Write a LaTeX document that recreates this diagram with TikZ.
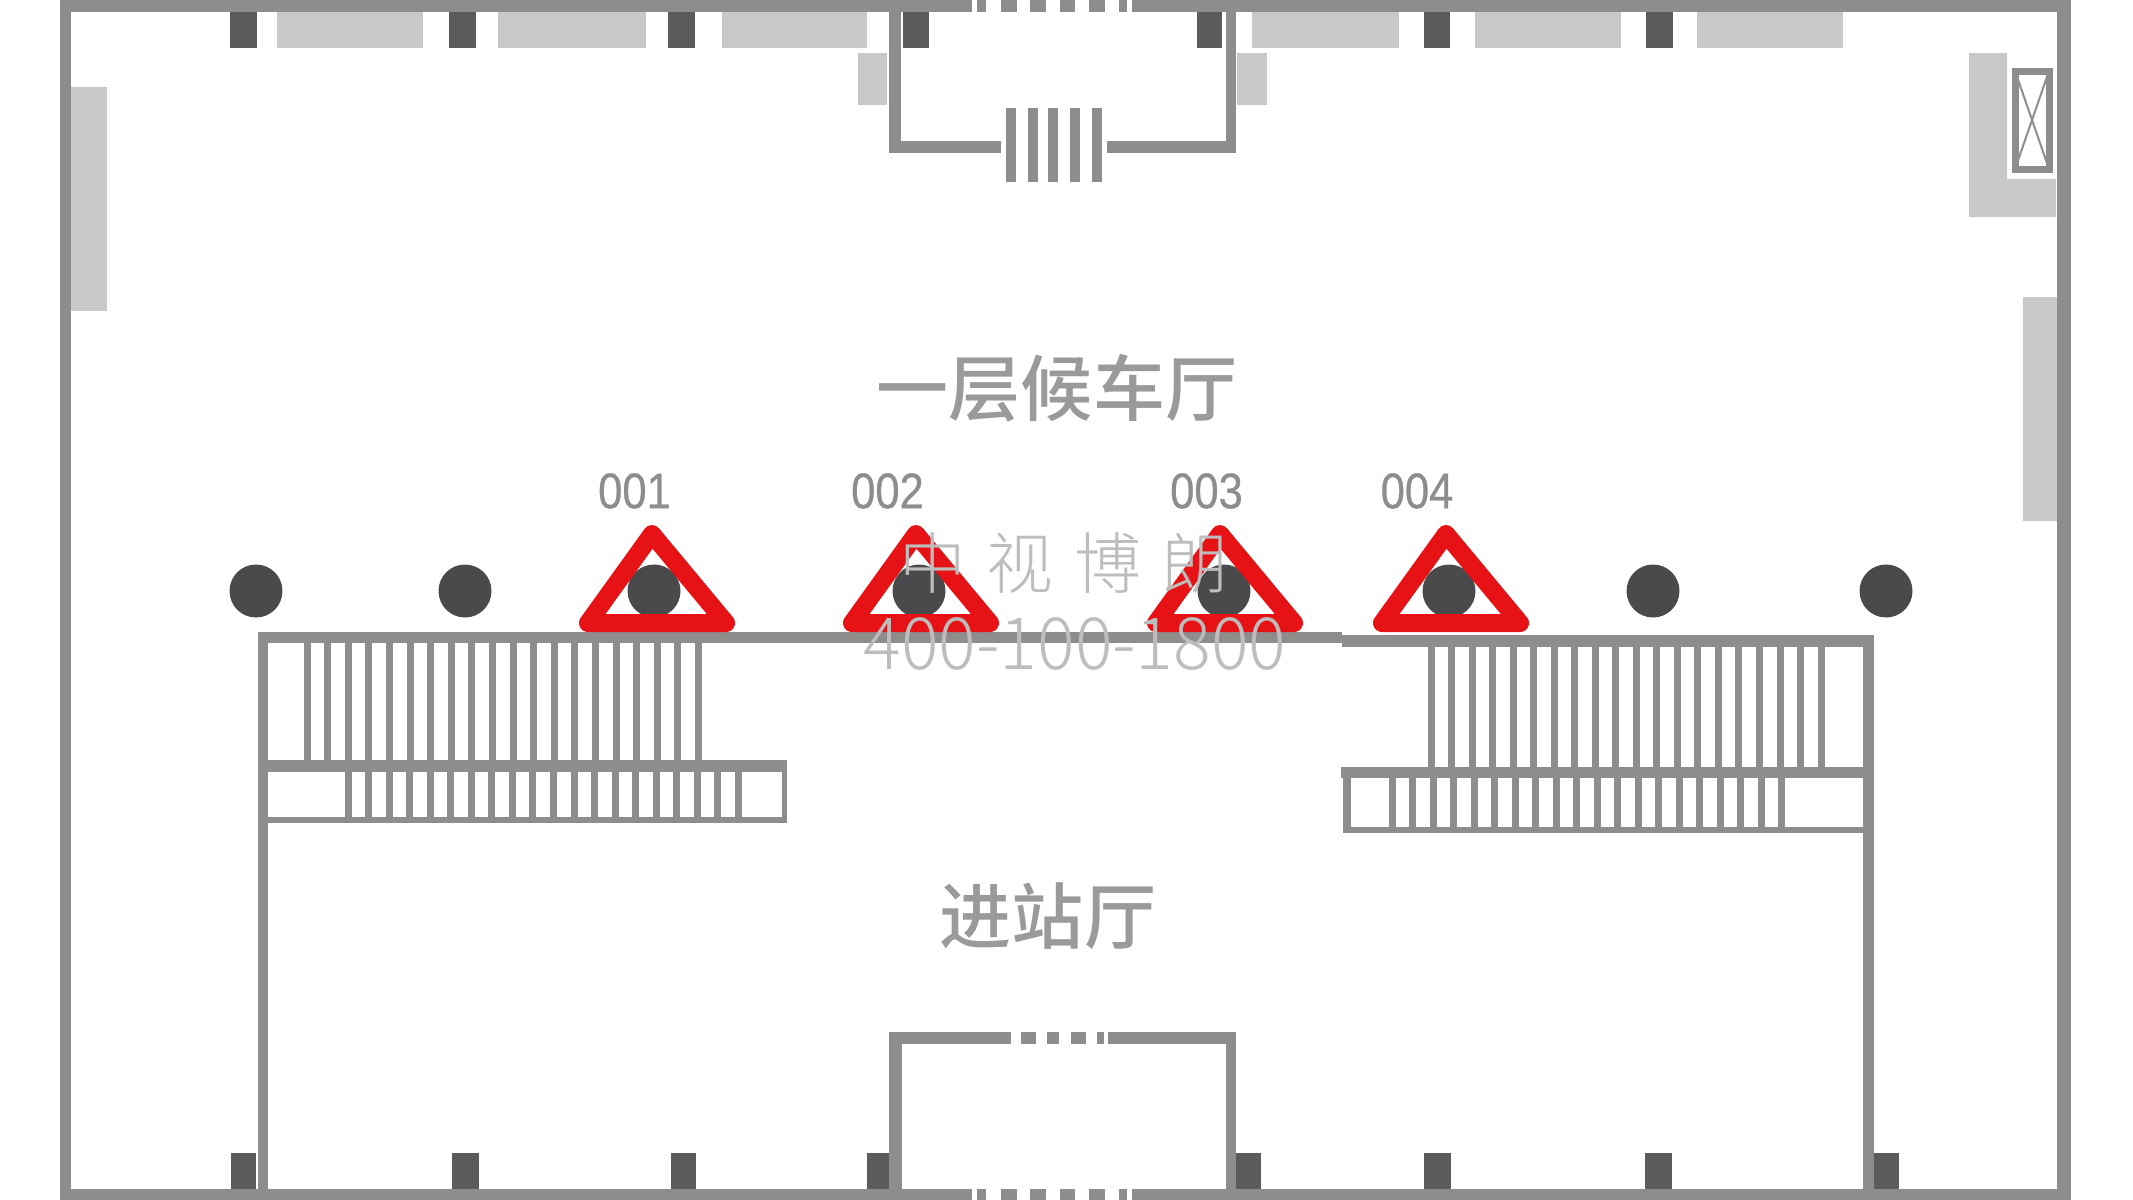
\documentclass[tikz,border=0pt]{standalone}
\usepackage{fontspec}
\newfontfamily\hallfont{Noto Sans CJK SC Medium}
\newfontfamily\numfont[FakeStretch=0.87,FakeBold=0.6]{Liberation Sans}
\newfontfamily\markfont[LetterSpace=31]{Noto Sans CJK SC Light}
\newfontfamily\telfont[FakeStretch=0.975]{Noto Sans CJK SC Light}
\definecolor{wallgrey}{HTML}{8E8D8C}
\definecolor{benchgrey}{HTML}{C8C8CA}
\definecolor{pillargrey}{HTML}{5C5A5B}
\definecolor{columngrey}{HTML}{4A494B}
\definecolor{signred}{HTML}{E61216}
\definecolor{hallgrey}{HTML}{9A9A9A}
\definecolor{markgrey}{HTML}{BDBDBD}
\tikzset{
  wall/.style={fill=wallgrey},
  bench/.style={fill=benchgrey},
  pillar/.style={fill=pillargrey},
  signtri/.style={draw=signred,line width=0.36cm,line join=round},
  halllabel/.style={text=hallgrey,inner sep=0pt,font=\hallfont\fontsize{41}{41}\selectfont},
  numlabel/.style={text=wallgrey,inner sep=0pt,font=\numfont\fontsize{28.5}{28.5}\selectfont},
  marklabel/.style={text=markgrey,inner sep=0pt}
}
\begin{document}
\begin{tikzpicture}[x=0.02cm,y=-0.02cm]
  \useasboundingbox (0,0) rectangle (2133,1200);
  \fill[wall] (60,0) rectangle (71,1200);
  \fill[wall] (2057,0) rectangle (2071,1200);
  \foreach \xa/\xb in {60/972,977/986,1001/1017,1030/1046,1060/1075,1089/1105,1119/1127,1132/2071} {
    \fill[wall] (\xa,0) rectangle (\xb,12);
    \fill[wall] (\xa,1189) rectangle (\xb,1200);
  }
  \foreach \xa/\xb in {277/423,498/646,722/867,1252/1399,1475/1621,1697/1843}
    \fill[bench] (\xa,12) rectangle (\xb,48);
  \foreach \xa/\xb in {230/257,449/476,668/695,903/929,1197/1222,1424/1450,1646/1673}
    \fill[pillar] (\xa,12) rectangle (\xb,48);
  \foreach \xa/\xb in {231/256,452/479,671/696,867/889,1236/1261,1424/1451,1645/1672,1872/1899}
    \fill[pillar] (\xa,1153) rectangle (\xb,1189);
  \fill[bench] (858,53) rectangle (887,105);
  \fill[bench] (1237,53) rectangle (1267,105);
  \fill[bench] (71,87) rectangle (107,311);
  \fill[bench] (2023,297) rectangle (2057,521);
  \fill[bench] (1969,53) -- (2007,53) -- (2007,179) -- (2056,179) -- (2056,217) -- (1969,217) -- cycle;
  \draw[wallgrey,line width=0.14cm] (2015,71) rectangle (2049,169);
  \draw[wallgrey,line width=0.04cm] (2015,71) -- (2049,169) (2049,71) -- (2015,169);

  \fill[wall] (889,0) rectangle (901,153);
  \fill[wall] (1226,0) rectangle (1236,153);
  \fill[wall] (889,141) rectangle (1001,153);
  \fill[wall] (1107,141) rectangle (1236,153);
  \foreach \xa in {1006,1028,1048,1070,1092}
    \fill[wall] (\xa,108) rectangle ++(10,74);

  \fill[wall] (258,632) rectangle (1342,643);
  \fill[wall] (1342,635) rectangle (1874,647);
  \fill[wall] (258,632) rectangle (268,1190);
  \fill[wall] (1863,635) rectangle (1874,1190);

  \fill[wall] (258,760) rectangle (787,772);
  \fill[wall] (258,817) rectangle (787,823);
  \fill[wall] (782,772) rectangle (787,823);
  \foreach \i in {0,...,19} {
    \fill[wall] ({303.5+20.6*\i},642) rectangle ++(7,118);
    \fill[wall] ({344.5+20.55*\i},772) rectangle ++(7,45);
  }
  \fill[wall] (1341,767) rectangle (1874,778);
  \fill[wall] (1343,827) rectangle (1874,833);
  \fill[wall] (1343,778) rectangle (1351,827);
  \foreach \i in {0,...,19} {
    \fill[wall] ({1427.5+20.53*\i},647) rectangle ++(7,120);
    \fill[wall] ({1388.5+20.5*\i},778) rectangle ++(7,49);
  }

  \fill[wall] (889,1032) rectangle (902,1190);
  \fill[wall] (1226,1032) rectangle (1236,1190);
  \foreach \xa/\xb in {889/1011,1021/1036,1047/1059,1071/1086,1097/1104,1108/1236}
    \fill[wall] (\xa,1032) rectangle (\xb,1044);

  \foreach \cx in {256,465,654,919,1224,1449,1653,1886}
    \fill[columngrey] (\cx,591) circle [radius=0.53cm];
  \foreach \ax in {652,916,1220,1446}
    \draw[signtri] (\ax,534) -- (\ax-64,623) -- (\ax+74,623) -- cycle;

  \node[halllabel] (hallone) at (1057,388) {一层候车厅};
  \node[halllabel] (hallentry) at (1048,916) {进站厅};
  \node[numlabel] (sign001) at (634.5,491) {001};
  \node[numlabel] (sign002) at (887.5,491) {002};
  \node[numlabel] (sign003) at (1206.5,491) {003};
  \node[numlabel] (sign004) at (1417,491) {004};
  \node[marklabel,font=\markfont\fontsize{38}{38}\selectfont] (markname) at (1064,563) {中视博朗};
  \node[marklabel,font=\telfont\fontsize{41}{41}\selectfont] (marktel) at (1075,644) {400-100-1800};
\end{tikzpicture}
\end{document}
